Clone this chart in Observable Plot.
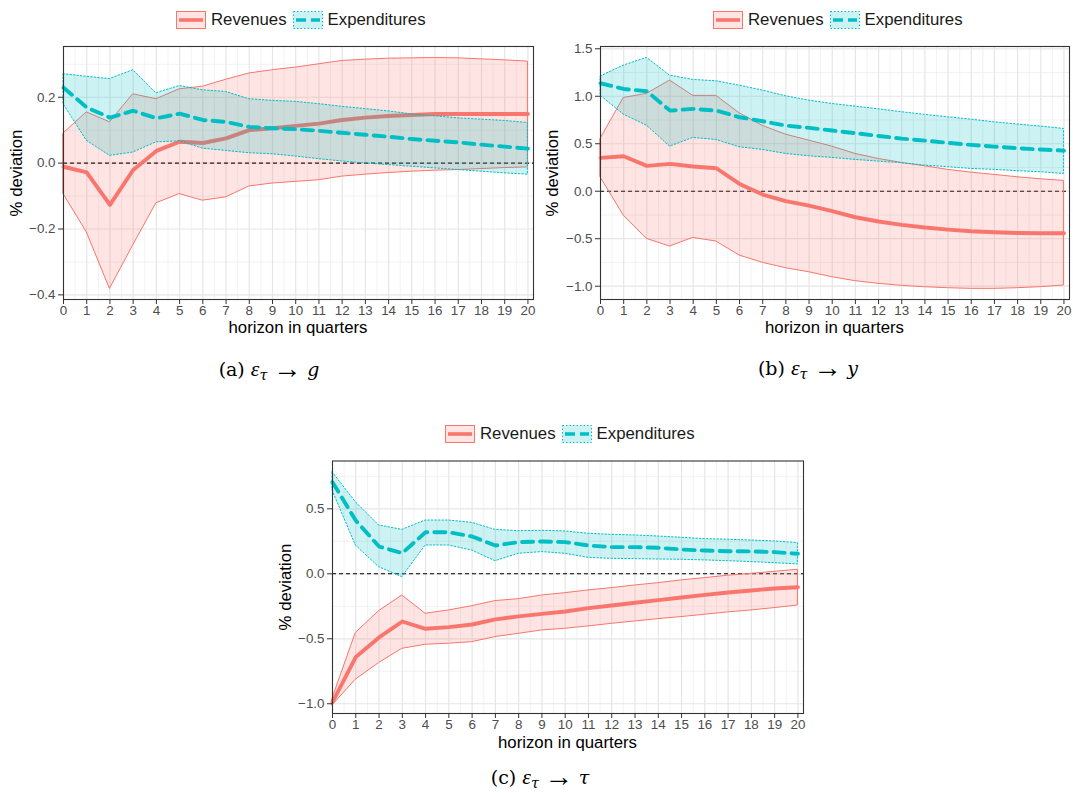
<!DOCTYPE html>
<html>
<head>
<meta charset="utf-8">
<script src="https://cdn.jsdelivr.net/npm/d3@7"></script>
<script src="https://cdn.jsdelivr.net/npm/@observablehq/plot@0.6"></script>
<style>
  html, body { margin: 0; padding: 0; background: white; }
  #page { position: relative; width: 1073px; height: 793px; overflow: hidden; background: white;
          font-family: "Liberation Sans", Arial, sans-serif; }
  #page .abs svg text { font-size: 13.4px; font-family: "Liberation Sans", Arial, sans-serif; }
  .abs { position: absolute; }
  .legend { position: absolute; display: flex; align-items: center; font-size: 16.8px; color: #1a1a1a; white-space: nowrap; }
  .legend svg { display: block; }
  .legend .key { margin-right: 5px; }
  .legend .lab { margin-right: 6px; }
  .ytitle { position: absolute; transform: translate(-50%, -50%) rotate(-90deg); font-size: 16.8px; color: #000; white-space: nowrap; }
  .xtitle { position: absolute; transform: translate(-50%, -50%); font-size: 16.8px; color: #000; white-space: nowrap; }
  .caption { position: absolute; transform: translate(-50%, -50%); font-family: "DejaVu Serif", "Liberation Serif", serif;
             font-size: 19px; color: #000; white-space: nowrap; }
  .caption sub { font-size: 0.75em; vertical-align: -0.3em; }
  .caption .eps { font-family: "Liberation Serif", serif; font-size: 1.15em; }
  .caption .arr { margin: 0 0.2em; font-size: 1.5em; font-family: "Liberation Serif", serif; vertical-align: -0.08em; }
</style>
</head>
<body>
<div id="page"></div>
<script>
// ---------------- data ----------------
const horizon = [0,1,2,3,4,5,6,7,8,9,10,11,12,13,14,15,16,17,18,19,20];
const seriesNames = ["Revenues", "Expenditures"];
const colors = ["#F8766D", "#00BFC4"];

// (a) eps_tau -> g
const aRev   = [-0.011,-0.028,-0.127,-0.021,0.037,0.065,0.061,0.075,0.100,0.106,0.113,0.120,0.131,0.138,0.143,0.146,0.149,0.149,0.149,0.149,0.149];
const aRevLo = [-0.094,-0.210,-0.382,-0.250,-0.122,-0.094,-0.114,-0.104,-0.071,-0.062,-0.057,-0.052,-0.041,-0.035,-0.030,-0.026,-0.023,-0.021,-0.018,-0.015,-0.013];
const aRevHi = [0.090,0.154,0.124,0.209,0.194,0.224,0.232,0.253,0.272,0.282,0.290,0.300,0.310,0.314,0.317,0.318,0.319,0.318,0.315,0.312,0.308];
const aExp   = [0.229,0.169,0.138,0.159,0.136,0.150,0.131,0.125,0.110,0.106,0.103,0.098,0.092,0.086,0.080,0.073,0.068,0.063,0.056,0.050,0.044];
const aExpLo = [0.179,0.068,0.022,0.032,0.063,0.066,0.044,0.037,0.030,0.027,0.020,0.012,0.005,-0.001,-0.006,-0.011,-0.016,-0.021,-0.026,-0.031,-0.035];
const aExpHi = [0.270,0.262,0.255,0.282,0.212,0.234,0.221,0.216,0.194,0.189,0.186,0.179,0.171,0.164,0.157,0.148,0.142,0.136,0.132,0.128,0.122];

// (b) eps_tau -> y
const bRev   = [0.351,0.368,0.267,0.288,0.260,0.242,0.077,-0.035,-0.105,-0.151,-0.210,-0.274,-0.319,-0.354,-0.382,-0.404,-0.421,-0.432,-0.439,-0.442,-0.442];
const bRevLo = [0.147,-0.256,-0.502,-0.582,-0.491,-0.530,-0.677,-0.754,-0.810,-0.853,-0.905,-0.947,-0.975,-0.996,-1.011,-1.021,-1.028,-1.028,-1.021,-1.010,-0.993];
const bRevHi = [0.551,0.982,1.025,1.165,1.004,1.004,0.821,0.688,0.596,0.533,0.470,0.393,0.340,0.298,0.263,0.225,0.196,0.172,0.147,0.126,0.109];
const bExp   = [1.137,1.077,1.053,0.849,0.867,0.849,0.779,0.737,0.691,0.667,0.639,0.611,0.582,0.554,0.533,0.509,0.488,0.470,0.453,0.439,0.428];
const bExpLo = [1.007,0.807,0.691,0.470,0.561,0.540,0.463,0.435,0.393,0.368,0.351,0.330,0.312,0.295,0.270,0.253,0.235,0.225,0.211,0.200,0.182];
const bExpHi = [1.207,1.323,1.404,1.218,1.172,1.158,1.112,1.060,1.000,0.954,0.919,0.891,0.863,0.832,0.804,0.779,0.754,0.726,0.702,0.681,0.656];

// (c) eps_tau -> tau
const cRev   = [-0.987,-0.641,-0.490,-0.367,-0.423,-0.410,-0.390,-0.351,-0.328,-0.308,-0.290,-0.264,-0.244,-0.223,-0.203,-0.182,-0.162,-0.144,-0.128,-0.113,-0.103];
const cRevLo = [-1.013,-0.815,-0.687,-0.577,-0.546,-0.538,-0.526,-0.487,-0.462,-0.436,-0.423,-0.405,-0.385,-0.367,-0.349,-0.333,-0.315,-0.297,-0.282,-0.264,-0.244];
const cRevHi = [-0.960,-0.456,-0.287,-0.167,-0.308,-0.282,-0.249,-0.210,-0.195,-0.167,-0.149,-0.128,-0.110,-0.090,-0.072,-0.051,-0.033,-0.015,0.000,0.015,0.031];
const cExp   = [0.705,0.410,0.210,0.159,0.320,0.320,0.287,0.218,0.244,0.249,0.244,0.218,0.205,0.205,0.200,0.187,0.179,0.174,0.172,0.167,0.154];
const cExpLo = [0.641,0.218,0.051,-0.026,0.218,0.218,0.179,0.097,0.154,0.167,0.154,0.123,0.115,0.113,0.110,0.108,0.103,0.097,0.090,0.082,0.072];
const cExpHi = [0.782,0.551,0.372,0.338,0.410,0.410,0.392,0.338,0.328,0.331,0.326,0.308,0.300,0.295,0.287,0.277,0.267,0.262,0.256,0.249,0.236];

// tick values
const xMajor = horizon;
const xMinor = horizon.slice(0, -1).map(h => h + 0.5);
const aYMajor = [-0.4, -0.2, 0, 0.2];
const aYMinor = [-0.3, -0.1, 0.1, 0.3];
const bYMajor = [-1.0, -0.5, 0, 0.5, 1.0, 1.5];
const bYMinor = [-0.75, -0.25, 0.25, 0.75, 1.25];
const cYMajor = [-1.0, -0.5, 0, 0.5];
const cYMinor = [-0.75, -0.25, 0.25, 0.75];

const xLabel = "horizon in quarters";
const yLabel = "% deviation";

// ---------------- drawing ----------------
const page = document.getElementById("page");

function rowsOf(rev, revLo, revHi, exp, expLo, expHi) {
  return horizon.map((h, i) => ({h, rev: rev[i], revLo: revLo[i], revHi: revHi[i], exp: exp[i], expLo: expLo[i], expHi: expHi[i]}));
}

function panel(o) {
  const rows = rowsOf(o.rev, o.revLo, o.revHi, o.exp, o.expLo, o.expHi);
  const svg = Plot.plot({
    width: o.width, height: o.height,
    marginLeft: o.ml, marginRight: o.mr, marginTop: o.mt, marginBottom: o.mb,
    style: {fontFamily: "'Liberation Sans', Arial, sans-serif", fontSize: "13.4px", background: "white", overflow: "visible"},
    x: {domain: [0, 20.24]},
    y: {domain: o.yDomain},
    marks: [
      Plot.ruleX(xMinor, {stroke: "#ececec", strokeWidth: 0.7}),
      Plot.ruleY(o.yMinor, {stroke: "#ececec", strokeWidth: 0.7}),
      Plot.ruleX(xMajor, {stroke: "#e6e6e6", strokeWidth: 1.2}),
      Plot.ruleY(o.yMajor, {stroke: "#e6e6e6", strokeWidth: 1.2}),
      Plot.ruleY([0], {stroke: "#000", strokeWidth: 1.1, strokeDasharray: "4,3"}),
      Plot.areaY(rows, {x: "h", y1: "revLo", y2: "revHi", fill: colors[0], fillOpacity: 0.2, stroke: colors[0], strokeWidth: 1}),
      Plot.line(rows, {x: "h", y: "rev", stroke: colors[0], strokeWidth: 3.9}),
      Plot.areaY(rows, {x: "h", y1: "expLo", y2: "expHi", fill: colors[1], fillOpacity: 0.2, stroke: colors[1], strokeWidth: 1, strokeDasharray: "1.5,2"}),
      Plot.line(rows, {x: "h", y: "exp", stroke: colors[1], strokeWidth: 3.9, strokeDasharray: "11,7"}),
      Plot.frame({stroke: "#333333", strokeWidth: 1.1}),
      Plot.axisX(xMajor, {tickSize: 5, tickPadding: 1, stroke: "#333333", fill: "#4d4d4d", fontSize: 13.4, label: null, tickFormat: d3.format("d")}),
      Plot.axisY(o.yMajor, {tickSize: 5, tickPadding: 3, stroke: "#333333", fill: "#4d4d4d", fontSize: 13.4, label: null, tickFormat: d3.format(".1f")})
    ]
  });
  const wrap = document.createElement("div");
  wrap.className = "abs";
  wrap.style.left = o.left + "px";
  wrap.style.top = o.top + "px";
  wrap.appendChild(svg);
  page.appendChild(wrap);

  const yt = document.createElement("div");
  yt.className = "ytitle"; yt.textContent = yLabel;
  yt.style.left = o.yTitleX + "px"; yt.style.top = o.yTitleY + "px";
  page.appendChild(yt);

  const xt = document.createElement("div");
  xt.className = "xtitle"; xt.textContent = xLabel;
  xt.style.left = o.xTitleX + "px"; xt.style.top = o.xTitleY + "px";
  page.appendChild(xt);
}

function legend(left, top) {
  const lg = document.createElement("div");
  lg.className = "legend";
  lg.style.left = left + "px"; lg.style.top = top + "px";
  seriesNames.forEach((name, i) => {
    const c = colors[i];
    const dashRect = i === 1 ? 'stroke-dasharray="1.5,2"' : '';
    const dashLine = i === 1 ? 'stroke-dasharray="10,5"' : '';
    const key = document.createElement("span");
    key.className = "key";
    key.innerHTML = `<svg width="30" height="18"><rect x="0.5" y="0.5" width="29" height="17" fill="${c}" fill-opacity="0.2" stroke="${c}" stroke-width="1" ${dashRect}></rect><line x1="3" x2="27" y1="9" y2="9" stroke="${c}" stroke-width="3.6" ${dashLine}></line></svg>`;
    lg.appendChild(key);
    const lab = document.createElement("span");
    lab.className = "lab";
    lab.textContent = name;
    lg.appendChild(lab);
  });
  page.appendChild(lg);
}

function caption(html, cx, cy) {
  const d = document.createElement("div");
  d.className = "caption";
  d.innerHTML = html;
  d.style.left = cx + "px"; d.style.top = cy + "px";
  page.appendChild(d);
}

// panel (a)
panel({rev: aRev, revLo: aRevLo, revHi: aRevHi, exp: aExp, expLo: aExpLo, expHi: aExpHi,
  yDomain: [-0.414, 0.354], yMajor: aYMajor, yMinor: aYMinor,
  left: 0, top: 40, width: 540, height: 300, ml: 63, mr: 7, mt: 6, mb: 41,
  yTitleX: 16.5, yTitleY: 172.5, xTitleX: 298, xTitleY: 328});
// panel (b)
panel({rev: bRev, revLo: bRevLo, revHi: bRevHi, exp: bExp, expLo: bExpLo, expHi: bExpHi,
  yDomain: [-1.14, 1.524], yMajor: bYMajor, yMinor: bYMinor,
  left: 540, top: 40, width: 533, height: 300, ml: 60, mr: 4, mt: 6, mb: 41,
  yTitleX: 553, yTitleY: 172.5, xTitleX: 834.5, xTitleY: 328});
// panel (c)
panel({rev: cRev, revLo: cRevLo, revHi: cRevHi, exp: cExp, expLo: cExpLo, expHi: cExpHi,
  yDomain: [-1.075, 0.868], yMajor: cYMajor, yMinor: cYMinor,
  left: 270, top: 450, width: 540, height: 300, ml: 62, mr: 7, mt: 10.5, mb: 37,
  yTitleX: 285.5, yTitleY: 586.7, xTitleX: 567.5, xTitleY: 743});

legend(176, 10);
legend(713, 10);
legend(445, 424);

caption('(a) <i class="eps">ε</i><sub><i>τ</i></sub><span class="arr">→</span><i>g</i>', 269, 369);
caption('(b) <i class="eps">ε</i><sub><i>τ</i></sub><span class="arr">→</span><i>y</i>', 808, 368);
caption('(c) <i class="eps">ε</i><sub><i>τ</i></sub><span class="arr">→</span><i>τ</i>', 540, 777);
</script>
</body>
</html>
